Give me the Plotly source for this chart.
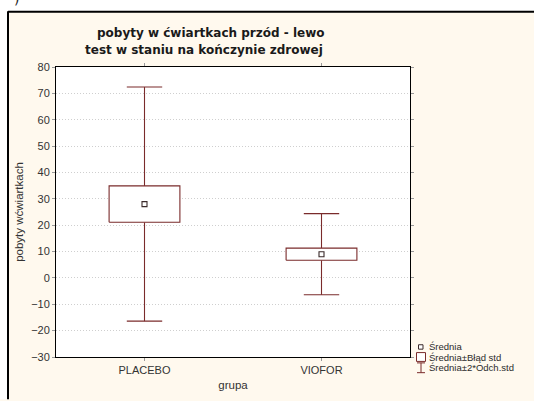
import plotly.graph_objects as go

# Group statistics: mean, standard error and standard deviation
groups = ["PLACEBO", "VIOFOR"]
means = [28.0, 9.0]
std_errors = [6.9, 2.3]
std_devs = [22.2, 7.7]

y_ticks = [-30, -20, -10, 0, 10, 20, 30, 40, 50, 60, 70, 80]

line_col = "#7a2b2b"
cream = "#fff9ee"
W, H = 534, 401
ML, MR, MT, MB = 56, 124, 67, 38
PW, PH = W - ML - MR, H - MT - MB


def px(x):
    return (x - ML) / PW


def py(y):
    return 1 - (y - MT) / PH


fig = go.Figure()

half_box, half_cap = 0.2, 0.1
for i, (m, se, sd) in enumerate(zip(means, std_errors, std_devs)):
    lo_b, hi_b = m - se, m + se
    lo_w, hi_w = m - 2 * sd, m + 2 * sd
    # whiskers (mean ± 2 SD) with caps
    fig.add_trace(go.Scatter(
        x=[i, i, None, i, i, None, i - half_cap, i + half_cap, None, i - half_cap, i + half_cap],
        y=[hi_b, hi_w, None, lo_b, lo_w, None, hi_w, hi_w, None, lo_w, lo_w],
        mode="lines", line=dict(color=line_col, width=1.1),
        hoverinfo="skip", showlegend=False))
    # box (mean ± SE)
    fig.add_trace(go.Scatter(
        x=[i - half_box, i + half_box, i + half_box, i - half_box, i - half_box],
        y=[lo_b, lo_b, hi_b, hi_b, lo_b],
        mode="lines", fill="toself", fillcolor="white",
        line=dict(color=line_col, width=1.1),
        hoverinfo="skip", showlegend=False))
    # mean point
    fig.add_trace(go.Scatter(
        x=[i], y=[m], mode="markers",
        marker=dict(symbol="square-open", size=5, color="#3a2a2a",
                    line=dict(width=1.1, color="#3a2a2a")),
        showlegend=False))

label_font = dict(family="Liberation Sans, Arial", size=11, color="#333")
axis_common = dict(showline=True, linecolor="black", linewidth=1, mirror="ticks",
                   ticks="outside", ticklen=3, tickcolor="#999",
                   tickfont=label_font, zeroline=False)

fig.update_xaxes(range=[-0.5, 1.5], tickvals=[0, 1], ticktext=groups, showgrid=False,
                 title=dict(text="grupa", standoff=5,
                            font=dict(family="Liberation Sans, Arial", size=11.5, color="#333")),
                 **axis_common)
fig.update_yaxes(range=[-30, 80], tickvals=y_ticks, showgrid=True, gridcolor="#cfcfcf",
                 griddash="1px,2px", gridwidth=1,
                 title=dict(text="pobyty wćwiartkach", standoff=5,
                            font=dict(family="Liberation Sans, Arial", size=11.5, color="#333")),
                 **axis_common)

shapes = [
    # white strips outside the panel frame
    dict(type="rect", xref="paper", yref="paper", x0=px(-5), x1=px(W + 5), y0=py(10), y1=py(-5),
         fillcolor="white", line_width=0, layer="below"),
    dict(type="rect", xref="paper", yref="paper", x0=px(-5), x1=px(8), y0=py(H + 5), y1=py(-5),
         fillcolor="white", line_width=0, layer="below"),
    # frame border
    dict(type="line", xref="paper", yref="paper", x0=px(8), x1=px(W + 5), y0=py(10.5), y1=py(10.5),
         line=dict(color="black", width=2)),
    dict(type="line", xref="paper", yref="paper", x0=px(8), x1=px(8), y0=py(10), y1=py(H + 5),
         line=dict(color="black", width=2)),
    # legend symbols
    dict(type="rect", xref="paper", yref="paper", x0=px(418.5), x1=px(423), y0=py(355), y1=py(350.5),
         line=dict(color="#3a2a2a", width=1), fillcolor="white"),
    dict(type="rect", xref="paper", yref="paper", x0=px(416.5), x1=px(425.5), y0=py(367.5), y1=py(358.5),
         line=dict(color=line_col, width=1), fillcolor="white"),
    dict(type="line", xref="paper", yref="paper", x0=px(421), x1=px(421), y0=py(379), y1=py(369),
         line=dict(color=line_col, width=1)),
    dict(type="line", xref="paper", yref="paper", x0=px(417), x1=px(425), y0=py(369), y1=py(369),
         line=dict(color=line_col, width=1)),
    dict(type="line", xref="paper", yref="paper", x0=px(417), x1=px(425), y0=py(379), y1=py(379),
         line=dict(color=line_col, width=1)),
]

legend_font = dict(family="Liberation Sans, Arial", size=9.5, color="#2b2b2b")
title_font = dict(family="DejaVu Sans", size=12, color="#1a1a1a")
annotations = [
    dict(text="<b>pobyty w ćwiartkach przód - lewo</b>", x=px(210), y=py(32),
         xref="paper", yref="paper", showarrow=False, font=title_font,
         xanchor="center", yanchor="middle"),
    dict(text="<b>test w staniu na kończynie zdrowej</b>", x=px(204), y=py(50),
         xref="paper", yref="paper", showarrow=False, font=title_font,
         xanchor="center", yanchor="middle"),
    dict(text="Średnia", x=px(427), y=py(352.5), xref="paper", yref="paper",
         showarrow=False, font=legend_font, xanchor="left", yanchor="middle"),
    dict(text="Średnia±Błąd std", x=px(427), y=py(363), xref="paper", yref="paper",
         showarrow=False, font=legend_font, xanchor="left", yanchor="middle"),
    dict(text="Średnia±2*Odch.std", x=px(427), y=py(373.5), xref="paper", yref="paper",
         showarrow=False, font=legend_font, xanchor="left", yanchor="middle"),
    dict(text=")", x=px(16), y=py(-2), xref="paper", yref="paper",
         showarrow=False, font=dict(family="DejaVu Sans", size=14, color="#222"),
         xanchor="center", yanchor="middle"),
]

fig.update_layout(
    width=W, height=H,
    margin=dict(l=ML, r=MR, t=MT, b=MB),
    paper_bgcolor=cream, plot_bgcolor="white",
    shapes=shapes, annotations=annotations,
    showlegend=False,
)

fig.write_html("out.html")
